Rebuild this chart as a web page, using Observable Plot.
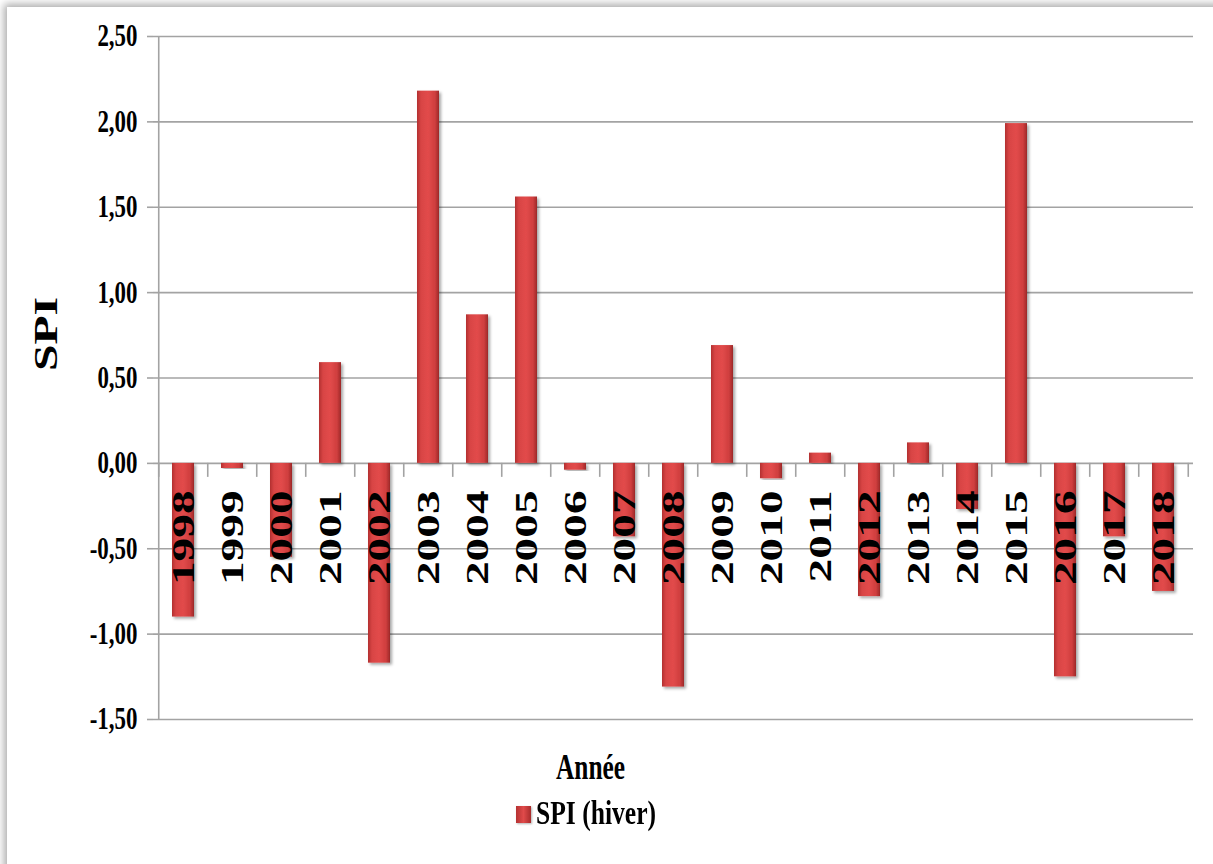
<!DOCTYPE html>
<html>
<head>
<meta charset="utf-8">
<script src="https://cdn.jsdelivr.net/npm/d3@7"></script>
<script src="https://cdn.jsdelivr.net/npm/@observablehq/plot@0.6"></script>
<style>
html, body { margin: 0; padding: 0; background: #fff; overflow: hidden; width: 1213px; height: 864px; }
#card { position: absolute; left: 7px; top: 7px; width: 1400px; height: 1000px; background: #fff;
        box-shadow: 0 0 8px 3px rgba(0,0,0,0.33); }
#chart { position: absolute; left: 0; top: 0; }
#legend { position: absolute; left: 516px; top: 797px; height: 36px; white-space: nowrap;
          font-family: "Liberation Serif", "Times New Roman", serif; font-weight: bold; font-size: 33px; line-height: 33px; }
#legend .sw { position: absolute; left: 0; top: 9px; width: 15px; height: 17px;
              background: linear-gradient(to right, #b53232, #e04a4a 50%, #a82c2c); box-shadow: 1px 1px 2px rgba(0,0,0,0.3); }
#legend .lb { position: absolute; left: 20px; top: 0; transform: scaleX(0.775); transform-origin: 0 0; }
</style>
</head>
<body>
<div id="card"></div>
<div id="chart"></div>
<div id="legend"><span class="sw"></span><span class="lb">SPI (hiver)</span></div>
<script>
const years = ["1998","1999","2000","2001","2002","2003","2004","2005","2006","2007","2008","2009","2010","2011","2012","2013","2014","2015","2016","2017","2018"];
const spi = [-0.90, -0.03, -0.55, 0.59, -1.17, 2.18, 0.87, 1.56, -0.04, -0.43, -1.31, 0.69, -0.09, 0.06, -0.78, 0.12, -0.27, 1.99, -1.25, -0.43, -0.75];
const yTicks = [-1.5, -1.0, -0.5, 0.0, 0.5, 1.0, 1.5, 2.0, 2.5];
const seriesName = "SPI (hiver)";
const xLabel = "Année";
const yLabel = "SPI";

const data = years.map((y, i) => ({year: y, value: spi[i]}));

const W = 1213, H = 790, mL = 153, mR = 20, mT = 36, mB = 71;
const step = (W - mL - mR) / years.length;
const tickUnits = 14 * (2.5 - (-1.5)) / (H - mT - mB);
const font = "Liberation Serif, Times New Roman, serif";
const gridColor = "#a3a3a3";
const fmt = d => d.toFixed(2).replace(".", ",");

const chart = Plot.plot({
  width: W, height: H,
  marginLeft: mL, marginRight: mR, marginTop: mT, marginBottom: mB,
  style: {fontFamily: font, background: "transparent", overflow: "visible"},
  x: {domain: years, type: "band", paddingInner: 0.55, paddingOuter: 0.275, axis: null},
  y: {domain: [-1.5, 2.5], axis: null},
  marks: [
    Plot.gridY(yTicks, {stroke: gridColor, strokeOpacity: 1, strokeWidth: 1.6}),
    Plot.ruleX([years[0]], {dx: -step / 2, y1: -1.5, y2: 2.5, stroke: gridColor, strokeWidth: 1.6}),
    Plot.axisY(yTicks, {tickSize: 6, tickPadding: 10, stroke: gridColor, strokeWidth: 1.6, fill: "black",
      fontSize: 31, fontWeight: "bold", fontFamily: font, label: null, tickFormat: fmt}),
    Plot.ruleX(years, {x: d => d, y1: 0, y2: -tickUnits, dx: -step / 2, stroke: gridColor, strokeWidth: 1.6}),
    Plot.ruleX([years[years.length - 1]], {y1: 0, y2: -tickUnits, dx: step / 2, stroke: gridColor, strokeWidth: 1.6}),
    Plot.barY(data, {x: "year", y: "value", fill: "url(#barGrad)"}),
    Plot.text(data, {x: "year", y: 0, text: "year", rotate: -90, textAnchor: "end", dy: 27,
      fontSize: 32, fontWeight: "bold", fontFamily: font, fill: "black"}),
    Plot.text([yLabel], {frameAnchor: "left", dx: -107, dy: -7, rotate: -90, fontSize: 34, fontWeight: "bold",
      fontFamily: font, fill: "black"}),
    Plot.text([xLabel], {frameAnchor: "bottom", dx: 590 - (mL + (W - mL - mR) / 2), dy: 59, lineAnchor: "bottom",
      fontSize: 36, fontWeight: "bold", fontFamily: font, fill: "black"})
  ]
});

document.getElementById("chart").appendChild(chart);

const svg = d3.select(chart);
const defs = svg.insert("defs", ":first-child");
const g = defs.append("linearGradient").attr("id", "barGrad").attr("x1", 0).attr("x2", 1).attr("y1", 0).attr("y2", 0);
[[0, "#b23030"], [0.18, "#d84444"], [0.5, "#e24b4b"], [0.82, "#cf3e3e"], [1, "#9c2828"]].forEach(([o, c]) =>
  g.append("stop").attr("offset", o).attr("stop-color", c));
const f = defs.append("filter").attr("id", "shadow").attr("x", "-30%").attr("y", "-10%").attr("width", "160%").attr("height", "120%");
f.append("feDropShadow").attr("dx", 2).attr("dy", 2).attr("stdDeviation", 1.5).attr("flood-color", "#000").attr("flood-opacity", 0.35);
svg.selectAll("rect").filter(function () { return (this.getAttribute("fill") || "").includes("barGrad") || (this.parentNode.getAttribute("fill") || "").includes("barGrad"); })
  .attr("filter", "url(#shadow)");

const tickLabels = new Set(yTicks.map(fmt));
const yearSet = new Set(years);
svg.selectAll("text").each(function () {
  const t = this.textContent.trim();
  let target = null;
  if (yearSet.has(t)) target = this.getComputedTextLength() * 1.48;
  else if (tickLabels.has(t)) target = this.getComputedTextLength() * 0.74;
  else if (t === yLabel) target = 74;
  else if (t === xLabel) target = 69;
  if (target) {
    this.setAttribute("textLength", target.toFixed(1));
    this.setAttribute("lengthAdjust", "spacingAndGlyphs");
  }
});
</script>
</body>
</html>
